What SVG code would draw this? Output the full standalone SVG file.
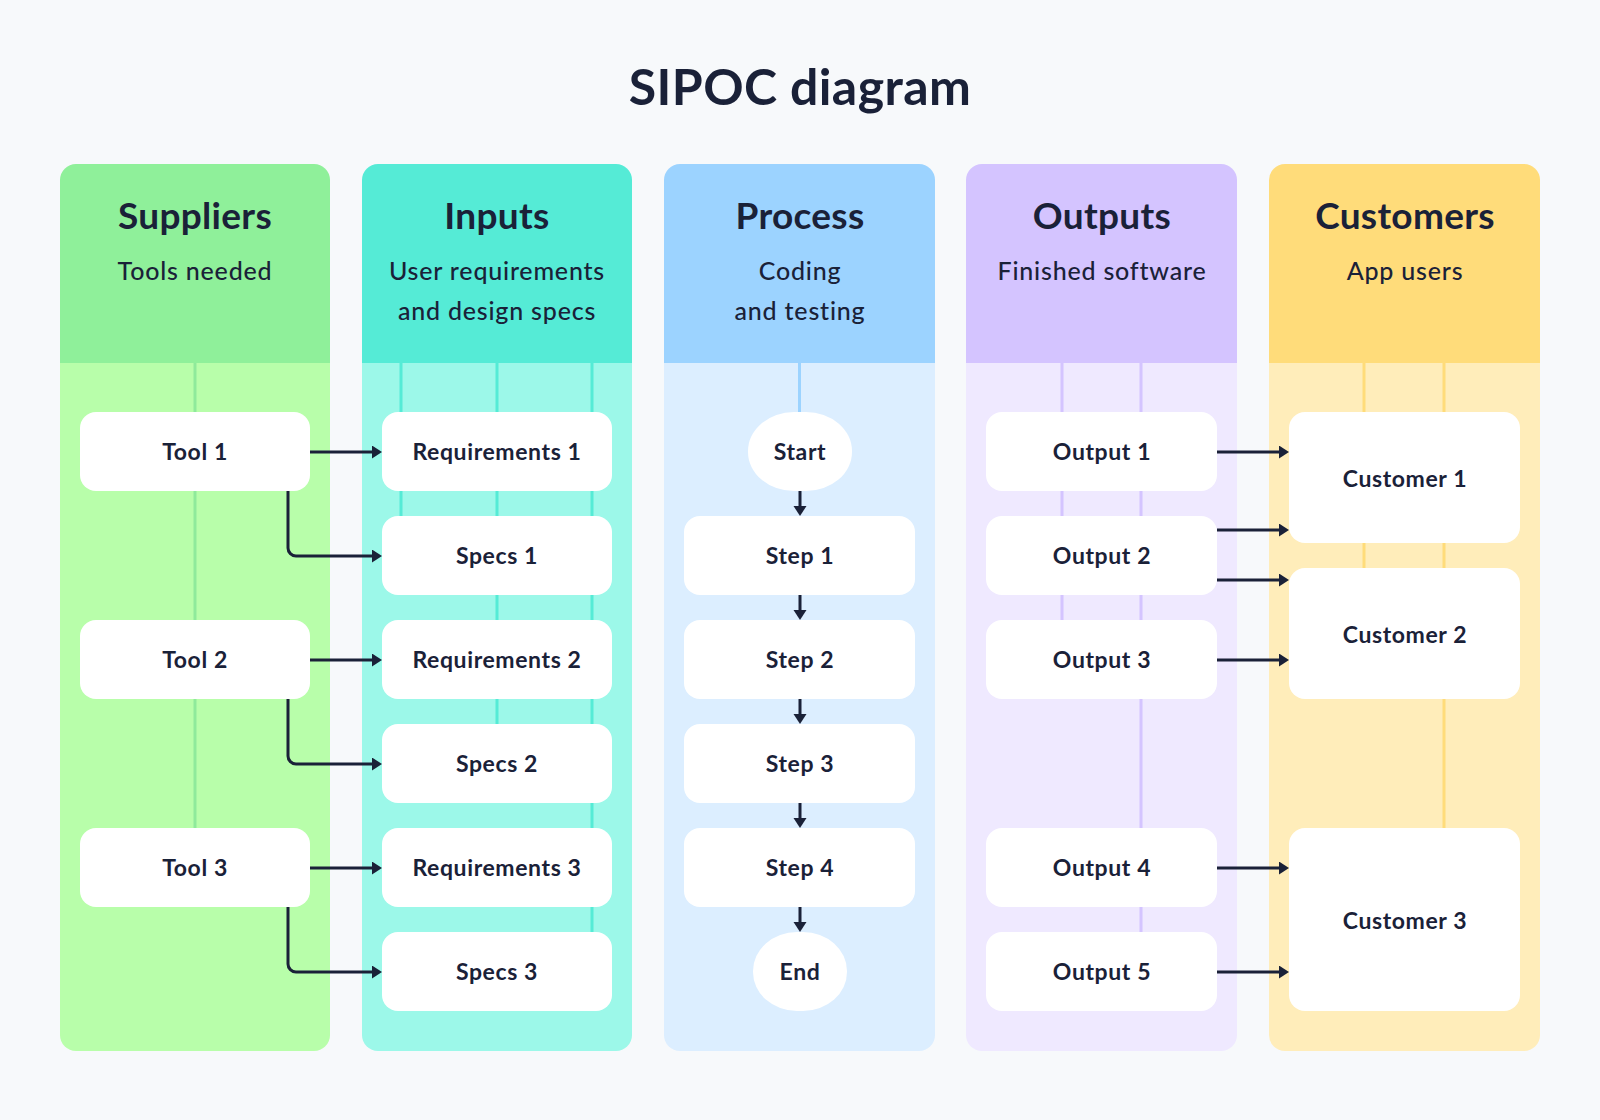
<svg xmlns="http://www.w3.org/2000/svg" width="1600" height="1120" viewBox="0 0 1600 1120">
<defs>
<style>
.title{font-family:Lato,"Noto Sans",sans-serif;font-weight:700;font-size:50px;letter-spacing:0.4px;fill:#1A2138;text-anchor:middle}
.ht{font-family:Lato,"Noto Sans",sans-serif;font-weight:700;font-size:37px;letter-spacing:0.3px;fill:#1A2138;text-anchor:middle}
.hs{font-family:Lato,"Noto Sans",sans-serif;font-weight:500;font-size:25px;letter-spacing:0.8px;fill:#1A2138;text-anchor:middle}
.nt{font-family:Lato,"Noto Sans",sans-serif;font-weight:700;font-size:23px;letter-spacing:0.6px;fill:#1A2138;text-anchor:middle}
.box{fill:#FFFFFF}
.conn{fill:none;stroke:#1A2138;stroke-width:3;marker-end:url(#arr)}
.guide{stroke-width:3;fill:none}
</style>
<marker id="arr" markerUnits="userSpaceOnUse" markerWidth="12" markerHeight="14" refX="2" refY="6.5" orient="auto">
<path d="M0,0 L10,6.5 L0,13 Z" fill="#1A2138"/>
</marker>
</defs>
<rect width="1600" height="1120" fill="#F7F9FB"/>
<text class="title" x="800" y="105">SIPOC diagram</text>

<!-- Columns -->
<g id="col-suppliers">
<path d="M60,180 a16,16 0 0 1 16,-16 h238 a16,16 0 0 1 16,16 v183 h-270 z" fill="#8FF09A"/>
<path d="M60,363 h270 v672 a16,16 0 0 1 -16,16 h-238 a16,16 0 0 1 -16,-16 z" fill="#B8FEAA"/>
<line class="guide" x1="195" y1="363" x2="195" y2="828" stroke="#8FEA9B"/>
<text class="ht" x="195" y="229">Suppliers</text>
<text class="hs" x="195" y="280">Tools needed</text>
</g>
<g id="col-inputs">
<path d="M362,180 a16,16 0 0 1 16,-16 h238 a16,16 0 0 1 16,16 v183 h-270 z" fill="#55EBD6"/>
<path d="M362,363 h270 v672 a16,16 0 0 1 -16,16 h-238 a16,16 0 0 1 -16,-16 z" fill="#9CF8E9"/>
<line class="guide" x1="401" y1="363" x2="401" y2="516" stroke="#55EBD6"/>
<line class="guide" x1="497" y1="363" x2="497" y2="724" stroke="#55EBD6"/>
<line class="guide" x1="592" y1="363" x2="592" y2="932" stroke="#55EBD6"/>
<text class="ht" x="497" y="229">Inputs</text>
<text class="hs" x="497" y="280">User requirements</text>
<text class="hs" x="497" y="320">and design specs</text>
</g>
<g id="col-process">
<path d="M664,180 a16,16 0 0 1 16,-16 h239 a16,16 0 0 1 16,16 v183 h-271 z" fill="#9CD3FF"/>
<path d="M664,363 h271 v672 a16,16 0 0 1 -16,16 h-239 a16,16 0 0 1 -16,-16 z" fill="#DCEEFF"/>
<line class="guide" x1="799.5" y1="363" x2="799.5" y2="412" stroke="#9CD3FF"/>
<text class="ht" x="800" y="229">Process</text>
<text class="hs" x="800" y="280">Coding</text>
<text class="hs" x="800" y="320">and testing</text>
</g>
<g id="col-outputs">
<path d="M966,180 a16,16 0 0 1 16,-16 h239 a16,16 0 0 1 16,16 v183 h-271 z" fill="#D4C4FF"/>
<path d="M966,363 h271 v672 a16,16 0 0 1 -16,16 h-239 a16,16 0 0 1 -16,-16 z" fill="#EFE9FF"/>
<line class="guide" x1="1062" y1="363" x2="1062" y2="620" stroke="#D4C4FF"/>
<line class="guide" x1="1141" y1="363" x2="1141" y2="932" stroke="#D4C4FF"/>
<text class="ht" x="1102" y="229">Outputs</text>
<text class="hs" x="1102" y="280">Finished software</text>
</g>
<g id="col-customers">
<path d="M1269,180 a16,16 0 0 1 16,-16 h239 a16,16 0 0 1 16,16 v183 h-271 z" fill="#FFDC7A"/>
<path d="M1269,363 h271 v672 a16,16 0 0 1 -16,16 h-239 a16,16 0 0 1 -16,-16 z" fill="#FFEDBA"/>
<line class="guide" x1="1364" y1="363" x2="1364" y2="568" stroke="#FFDC7A"/>
<line class="guide" x1="1444" y1="363" x2="1444" y2="829" stroke="#FFDC7A"/>
<text class="ht" x="1405" y="229">Customers</text>
<text class="hs" x="1405" y="280">App users</text>
</g>

<!-- Connectors -->
<g id="connectors">
<path class="conn" d="M310,452 H374"/>
<path class="conn" d="M288,490 V548 a8,8 0 0 0 8,8 H374"/>
<path class="conn" d="M310,660 H374"/>
<path class="conn" d="M288,698 V756 a8,8 0 0 0 8,8 H374"/>
<path class="conn" d="M310,868 H374"/>
<path class="conn" d="M288,906 V964 a8,8 0 0 0 8,8 H374"/>
<path class="conn" d="M800,490 V508"/>
<path class="conn" d="M800,594 V612"/>
<path class="conn" d="M800,698 V716"/>
<path class="conn" d="M800,802 V820"/>
<path class="conn" d="M800,906 V924"/>
<path class="conn" d="M1217,452 H1281"/>
<path class="conn" d="M1217,530 H1281"/>
<path class="conn" d="M1217,580 H1281"/>
<path class="conn" d="M1217,660 H1281"/>
<path class="conn" d="M1217,868 H1281"/>
<path class="conn" d="M1217,972 H1281"/>
</g>

<!-- Nodes -->
<g id="tool1"><rect class="box" x="80" y="412" width="230" height="79" rx="16"/><text class="nt" x="195" y="460">Tool 1</text></g>
<g id="tool2"><rect class="box" x="80" y="620" width="230" height="79" rx="16"/><text class="nt" x="195" y="668">Tool 2</text></g>
<g id="tool3"><rect class="box" x="80" y="828" width="230" height="79" rx="16"/><text class="nt" x="195" y="876">Tool 3</text></g>

<g id="req1"><rect class="box" x="382" y="412" width="230" height="79" rx="16"/><text class="nt" x="497" y="460">Requirements 1</text></g>
<g id="specs1"><rect class="box" x="382" y="516" width="230" height="79" rx="16"/><text class="nt" x="497" y="564">Specs 1</text></g>
<g id="req2"><rect class="box" x="382" y="620" width="230" height="79" rx="16"/><text class="nt" x="497" y="668">Requirements 2</text></g>
<g id="specs2"><rect class="box" x="382" y="724" width="230" height="79" rx="16"/><text class="nt" x="497" y="772">Specs 2</text></g>
<g id="req3"><rect class="box" x="382" y="828" width="230" height="79" rx="16"/><text class="nt" x="497" y="876">Requirements 3</text></g>
<g id="specs3"><rect class="box" x="382" y="932" width="230" height="79" rx="16"/><text class="nt" x="497" y="980">Specs 3</text></g>

<g id="start"><rect class="box" x="748" y="412" width="104" height="79" rx="46" ry="39"/><text class="nt" x="800" y="460">Start</text></g>
<g id="step1"><rect class="box" x="684" y="516" width="231" height="79" rx="16"/><text class="nt" x="800" y="564">Step 1</text></g>
<g id="step2"><rect class="box" x="684" y="620" width="231" height="79" rx="16"/><text class="nt" x="800" y="668">Step 2</text></g>
<g id="step3"><rect class="box" x="684" y="724" width="231" height="79" rx="16"/><text class="nt" x="800" y="772">Step 3</text></g>
<g id="step4"><rect class="box" x="684" y="828" width="231" height="79" rx="16"/><text class="nt" x="800" y="876">Step 4</text></g>
<g id="end"><rect class="box" x="753" y="932" width="94" height="79" rx="44" ry="39"/><text class="nt" x="800" y="980">End</text></g>

<g id="output1"><rect class="box" x="986" y="412" width="231" height="79" rx="16"/><text class="nt" x="1102" y="460">Output 1</text></g>
<g id="output2"><rect class="box" x="986" y="516" width="231" height="79" rx="16"/><text class="nt" x="1102" y="564">Output 2</text></g>
<g id="output3"><rect class="box" x="986" y="620" width="231" height="79" rx="16"/><text class="nt" x="1102" y="668">Output 3</text></g>
<g id="output4"><rect class="box" x="986" y="828" width="231" height="79" rx="16"/><text class="nt" x="1102" y="876">Output 4</text></g>
<g id="output5"><rect class="box" x="986" y="932" width="231" height="79" rx="16"/><text class="nt" x="1102" y="980">Output 5</text></g>

<g id="customer1"><rect class="box" x="1289" y="412" width="231" height="131" rx="16"/><text class="nt" x="1405" y="487">Customer 1</text></g>
<g id="customer2"><rect class="box" x="1289" y="568" width="231" height="131" rx="16"/><text class="nt" x="1405" y="643">Customer 2</text></g>
<g id="customer3"><rect class="box" x="1289" y="828" width="231" height="183" rx="16"/><text class="nt" x="1405" y="929">Customer 3</text></g>
</svg>
